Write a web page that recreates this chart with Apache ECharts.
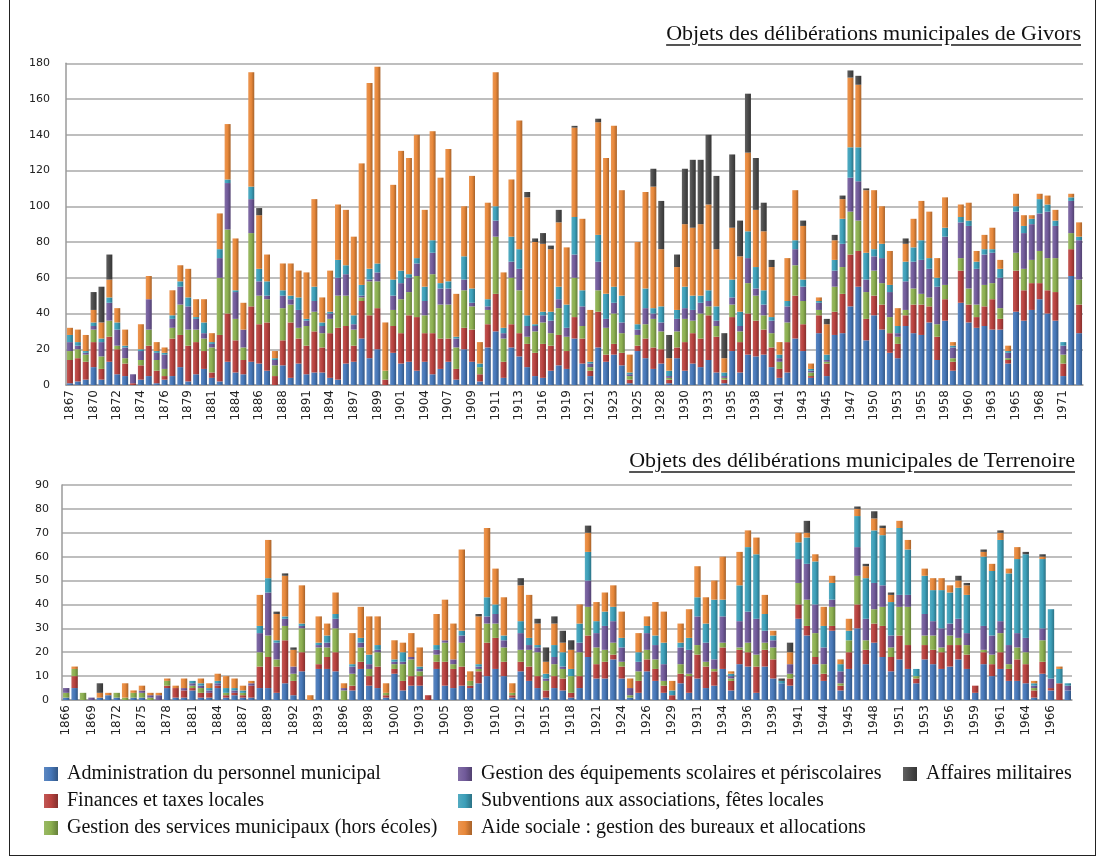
<!DOCTYPE html>
<html><head><meta charset="utf-8">
<script src="https://cdn.jsdelivr.net/npm/echarts/dist/echarts.min.js"></script>
<style>
html,body{margin:0;padding:0;background:#fff;}
#wrap{position:relative;width:1099px;height:859px;overflow:hidden;background:#fff;}
#c{position:absolute;left:0;top:0;width:1099px;height:859px;}
.ttl{position:absolute;font-family:"Liberation Serif","Times New Roman",serif;font-size:22px;color:#111;text-decoration:underline;text-decoration-color:#555;text-decoration-thickness:1.5px;text-underline-offset:4px;white-space:nowrap;line-height:24px;}
#frame{position:absolute;left:9px;top:-2px;width:1087px;height:858px;border:1px solid #222;box-sizing:border-box;pointer-events:none;}
</style></head>
<body><div id="wrap"><div id="c"></div>
<div class="ttl" style="right:18px;top:21px;">Objets des délibérations municipales de Givors</div>
<div class="ttl" style="right:24px;top:448px;">Objets des délibérations municipales de Terrenoire</div>
<div id="frame"></div></div>
<script>
const seriesNames = ['Administration du personnel municipal','Finances et taxes locales','Gestion des services municipaux (hors écoles)','Gestion des équipements scolaires et périscolaires','Subventions aux associations, fêtes locales','Aide sociale : gestion des bureaux et allocations','Affaires militaires'];
const seriesColors = ['#4677b8','#b8413e','#8cb050','#715a9a','#3c9fb9','#e8883a','#4a4a4a'];

const givYears = ['1867','1868','1869','1870','1871','1871','1872','1873','1873','1874','1875','1875','1876','1877','1878','1879','1880','1880','1881','1882','1883','1884','1885','1885','1886','1887','1887','1888','1889','1890','1891','1892','1893','1894','1895','1896','1897','1898','1898','1899','1900','1900','1901','1902','1903','1904','1905','1906','1907','1908','1908','1909','1910','1910','1911','1912','1912','1913','1914','1915','1916','1917','1918','1919','1920','1920','1921','1922','1922','1923','1924','1924','1925','1926','1927','1928','1929','1929','1930','1931','1932','1933','1934','1934','1935','1936','1937','1938','1939','1940','1941','1942','1942','1943','1944','1944','1945','1946','1946','1947','1948','1949','1950','1951','1952','1953','1954','1954','1955','1956','1957','1958','1959','1959','1960','1961','1962','1963','1964','1964','1965','1966','1967','1968','1969','1970','1971','1972','1973'];

const givAdmin = [1,2,3,10,3,13,6,5,0,3, 5,1,3,5,10,2,6,9,4,2, 13,7,6,13,12,8,0,11,4,12, 6,7,7,4,3,12,13,26,15,20, 0,18,12,13,8,13,6,9,13,3, 20,13,2,21,30,4,21,16,10,5, 4,8,11,9,26,12,5,21,13,17, 11,1,19,15,9,12,1,15,8,12, 10,14,7,1,19,7,17,16,17,10, 4,7,26,19,4,29,5,28,29,44, 55,25,39,31,18,15,33,29,28,35, 14,36,8,46,35,32,33,31,31,12, 41,36,42,48,40,36,5,61,29];
const givFin = [13,13,10,14,6,14,14,7,1,8, 17,7,2,21,18,20,18,10,3,26, 27,18,8,31,22,27,5,14,31,14, 16,23,14,25,29,21,9,21,24,23, 3,15,17,26,30,16,23,17,13,6, 12,18,4,13,21,9,13,13,13,13, 19,14,17,10,12,14,3,20,4,6, 7,2,3,11,12,8,2,6,16,17, 16,25,20,2,19,17,23,20,14,11, 5,17,24,15,1,10,7,13,22,29, 20,12,11,14,11,8,6,16,17,9, 13,12,5,18,10,6,11,17,6,2, 23,17,15,9,13,16,7,15,16];
const givServ = [5,5,4,7,7,9,2,3,0,3, 9,6,4,6,17,9,7,7,14,32, 47,12,7,41,16,13,6,18,10,6, 11,11,8,8,18,17,9,2,19,15, 5,9,19,13,23,10,33,19,19,12, 21,13,4,8,32,13,26,24,4,12, 12,7,15,8,22,7,2,12,15,17, 11,2,6,8,16,10,1,9,13,7, 14,5,6,1,7,6,17,14,8,8, 4,11,17,13,2,3,1,14,15,24, 17,15,14,12,9,4,3,9,6,5, 7,8,2,7,9,7,12,9,6,1, 10,12,13,18,18,19,5,9,14];
const givScol = [5,2,1,2,8,10,9,6,5,5, 17,4,8,5,10,13,6,3,2,11, 26,15,10,19,8,2,3,7,3,10, 3,6,4,3,10,12,3,1,1,5, 0,8,9,8,7,8,12,9,9,5, 6,2,0,2,9,3,9,12,6,3, 4,7,5,5,13,11,2,16,5,6, 6,1,3,9,3,5,1,7,6,6, 6,3,3,1,4,3,14,4,6,7, 2,9,9,8,1,4,1,9,13,19, 22,7,8,14,14,2,16,15,19,16, 21,27,6,20,35,20,17,17,17,3, 23,20,20,21,26,18,5,18,22];
const givSub = [4,2,1,2,2,3,4,1,0,1, 0,1,1,2,3,5,1,6,1,5, 2,1,0,7,7,8,1,3,2,7, 1,8,2,1,10,5,5,6,6,5, 0,9,7,2,3,8,7,3,4,1, 13,8,2,4,8,3,14,11,6,1, 2,5,7,13,21,9,1,15,14,9, 15,1,3,11,3,9,3,5,12,8, 4,6,8,2,10,8,15,12,8,2, 2,3,5,4,1,1,3,6,14,17, 19,15,4,8,4,4,11,8,11,6, 5,5,1,3,3,4,3,2,5,1, 3,4,3,8,4,3,2,2,2];
const givAide = [4,7,9,7,9,10,8,9,0,14, 13,5,3,14,9,16,10,13,5,20, 31,29,15,64,30,15,4,15,18,15, 26,49,14,23,31,31,44,68,104,110, 27,53,67,65,69,43,61,59,74,24, 28,63,12,54,75,31,32,72,66,46, 38,35,36,32,50,40,29,63,76,90, 59,10,46,54,68,32,7,24,35,38, 40,48,32,8,29,31,44,32,33,28, 7,24,28,30,3,2,17,11,11,39, 35,35,33,21,19,10,10,16,22,26, 11,17,2,7,10,6,8,12,5,3, 7,6,2,3,5,6,0,2,8];
const givMil = [0,0,0,10,20,14,0,0,0,0, 0,0,0,0,0,0,0,0,0,0, 0,0,0,0,4,0,0,0,0,0, 0,0,0,0,0,0,0,0,0,0, 0,0,0,0,0,0,0,0,0,0, 0,0,0,0,0,0,0,0,3,2, 6,2,7,0,1,0,0,2,0,0, 0,0,0,0,10,27,13,7,31,38, 36,39,41,14,41,20,33,29,16,4, 0,0,0,3,0,0,3,3,2,4, 5,1,0,0,0,0,3,0,0,0, 0,0,0,0,0,0,0,0,0,0, 0,0,0,0,0,0,0,0,0];

const terYears = ['1866','1867','1868','1869','1870','1871','1872','1873','1874','1875','1876','1877','1878','1879','1880','1881','1882','1883','1884','1885','1886','1887','1888','1888','1889','1890','1891','1892','1892','1892','1893','1894','1895','1896','1897','1897','1898','1899','1899','1900','1901','1902','1903','1904','1904','1905','1906','1907','1908','1909','1909','1910','1911','1911','1912','1913','1914','1915','1916','1917','1918','1919','1920','1921','1922','1923','1924','1925','1925','1926','1927','1928','1929','1930','1930','1931','1932','1933','1934','1935','1935','1936','1937','1938','1939','1940','1940','1941','1942','1943','1944','1944','1944','1945','1946','1947','1948','1949','1950','1951','1952','1952','1953','1954','1955','1956','1957','1958','1959','1960','1960','1961','1962','1963','1964','1965','1965','1966','1967','1968'];

const terAdmin = [1,5,0,0,1,2,1,0,1,1, 0,0,5,1,1,4,1,1,5,1, 2,1,1,5,5,3,7,2,12,0, 13,13,12,0,4,13,6,5,1,11, 4,6,6,0,13,6,5,6,5,7, 10,13,10,1,12,8,5,1,5,4, 1,5,18,9,9,17,9,1,3,12, 8,3,0,7,3,9,5,6,13,4, 15,14,3,14,9,7,6,34,27,15, 8,29,4,13,30,15,24,18,12,17, 13,7,17,15,13,14,17,13,3,15, 10,13,8,8,7,1,11,4,0,4];
const terFin = [0,5,0,0,0,0,0,0,0,0, 0,0,1,4,3,1,2,2,1,1, 1,1,5,9,13,11,18,6,8,0, 2,5,8,0,2,3,4,9,1,2, 4,4,4,2,3,10,8,8,1,5, 14,13,6,1,4,6,5,3,5,5, 2,5,9,6,7,2,5,0,5,5, 5,3,2,4,7,10,9,6,9,4, 6,6,11,7,8,0,3,6,4,3, 3,2,2,7,10,6,8,13,6,10, 10,2,6,6,7,9,6,6,3,5, 5,7,5,9,8,3,5,1,7,0];
const terServ = [2,3,3,0,0,0,2,1,2,2, 1,0,2,0,0,1,2,0,0,1, 0,1,0,6,9,3,6,3,10,0, 7,4,10,4,5,6,3,6,1,2, 7,7,2,0,3,8,2,10,2,1, 8,6,6,1,5,7,10,4,5,4, 7,10,12,7,5,5,2,1,4,4, 4,2,0,4,1,4,2,1,2,1, 1,4,5,3,5,0,2,9,11,10, 4,8,1,5,12,4,6,8,4,12, 16,1,4,6,2,4,3,4,0,1, 4,8,2,5,5,1,9,0,0,0];
const terScol = [2,0,0,1,0,0,0,0,0,1, 1,2,0,0,1,1,1,1,1,0, 1,0,1,8,18,7,3,3,1,0, 1,2,4,1,3,2,2,1,0,1, 1,1,1,0,2,1,2,3,0,1, 3,4,3,0,7,2,2,1,3,1, 0,4,11,6,10,9,6,3,4,7, 6,7,0,7,10,12,8,4,11,1, 11,13,15,5,3,0,4,10,15,12, 7,3,5,0,12,9,11,9,5,5, 5,0,9,6,8,5,8,5,0,10, 8,5,8,6,6,1,5,4,0,2];
const terSub = [0,0,0,0,0,0,0,0,0,0, 0,0,0,0,0,1,1,1,1,2, 1,1,0,3,6,1,1,0,1,0, 1,3,2,0,1,2,4,2,0,1, 4,0,1,0,2,0,0,2,0,1, 8,4,2,0,5,3,1,2,5,6, 3,8,12,5,6,6,4,0,4,3, 4,9,2,2,5,8,8,25,7,1, 15,27,27,7,2,1,0,7,11,18, 9,7,3,4,13,17,22,21,14,28, 19,3,16,13,16,13,13,16,0,29, 27,34,30,31,35,1,29,29,6,1];
const terAide = [0,1,0,0,2,1,0,6,1,2, 1,1,1,1,4,0,2,2,3,5, 4,2,1,13,16,11,17,7,16,2, 11,5,9,2,13,13,16,12,4,8, 4,10,8,0,13,17,15,34,4,20, 29,15,16,4,15,18,9,5,9,4, 8,8,8,8,8,9,11,4,8,4, 14,13,4,8,12,13,11,8,18,1, 14,7,7,8,2,0,5,4,2,3, 8,3,2,5,3,5,5,3,3,3, 4,0,3,5,5,3,3,4,0,2, 3,3,2,5,0,1,1,0,1,0];
const terMil = [0,0,0,0,4,0,0,0,0,0, 0,0,0,0,0,0,0,0,0,0, 0,0,0,0,0,1,1,1,0,0, 0,0,0,0,0,0,0,0,0,0, 0,0,0,0,0,0,0,0,0,1, 0,0,0,0,3,0,2,6,3,5, 4,0,3,0,0,0,0,0,0,0, 0,0,0,0,0,0,0,0,0,0, 0,0,0,0,0,1,4,0,5,0, 0,0,0,0,1,1,3,1,1,0, 0,0,0,0,0,0,2,1,0,1, 0,1,0,0,1,0,1,0,0,0];

const givData = [givAdmin, givFin, givServ, givScol, givSub, givAide, givMil];
const terData = [terAdmin, terFin, terServ, terScol, terSub, terAide, terMil];

function shade(hex, f) {
  const n = parseInt(hex.slice(1), 16);
  let r = n >> 16, g = (n >> 8) & 255, b = n & 255;
  const t = f < 0 ? 0 : 255, p = Math.abs(f);
  r = Math.round((t - r) * p + r); g = Math.round((t - g) * p + g); b = Math.round((t - b) * p + b);
  return '#' + ((1 << 24) + (r << 16) + (g << 8) + b).toString(16).slice(1);
}
function grad(c) {
  return new echarts.graphic.LinearGradient(0, 0, 1, 0, [
    {offset: 0, color: shade(c, 0.12)}, {offset: 0.5, color: c}, {offset: 1, color: shade(c, -0.28)}
  ]);
}

const chart = echarts.init(document.getElementById('c'), null, {renderer: 'canvas', width: 1099, height: 859});
const axisFont = {fontFamily: 'DejaVu Sans', color: '#222'};
const legendText = {fontFamily: 'Liberation Serif', fontSize: 20, lineHeight: 20, color: '#111', padding: [0, 0, 0, 4]};
function legendCfg(items, left) {
  return {data: items, left: left, top: 764, orient: 'vertical', padding: 0, itemWidth: 14, itemHeight: 14, itemGap: 7,
          textStyle: legendText, selectedMode: false, icon: 'rect'};
}
function makeSeries(data, stack, ax) {
  return data.map((d, i) => ({
    name: seriesNames[i], type: 'bar', stack: stack, xAxisIndex: ax, yAxisIndex: ax, data: d,
    barCategoryGap: '24%', itemStyle: {color: grad(seriesColors[i])}, emphasis: {disabled: true}
  }));
}
chart.setOption({
  animation: false,
  backgroundColor: '#fff',
  grid: [
    {left: 66, right: 16, top: 63.3, bottom: 474},
    {left: 62, right: 27, top: 485, bottom: 159}
  ],
  xAxis: [
    {type: 'category', gridIndex: 0, data: givYears, axisTick: {show: false},
     axisLine: {lineStyle: {color: '#9a9a9a', width: 1.5}},
     axisLabel: Object.assign({interval: 2, rotate: 90, fontSize: 12, margin: 5}, axisFont)},
    {type: 'category', gridIndex: 1, data: terYears, axisTick: {show: false},
     axisLine: {lineStyle: {color: '#9a9a9a', width: 1.5}},
     axisLabel: Object.assign({interval: 2, rotate: 90, fontSize: 12, margin: 5}, axisFont)}
  ],
  yAxis: [
    {type: 'value', gridIndex: 0, min: 0, max: 180, interval: 20,
     axisLine: {show: true, lineStyle: {color: '#9a9a9a', width: 1.5}}, axisTick: {show: false},
     splitLine: {lineStyle: {color: '#a8a8a8', width: 1.5}},
     axisLabel: Object.assign({fontSize: 11, margin: 16}, axisFont)},
    {type: 'value', gridIndex: 1, min: 0, max: 90, interval: 10,
     axisLine: {show: true, lineStyle: {color: '#9a9a9a', width: 1.5}}, axisTick: {show: false},
     splitLine: {lineStyle: {color: '#a8a8a8', width: 1.5}},
     axisLabel: Object.assign({fontSize: 11, margin: 13}, axisFont)}
  ],
  legend: [
    legendCfg(seriesNames.slice(0, 3), 44),
    legendCfg(seriesNames.slice(3, 6), 458),
    legendCfg(seriesNames.slice(6, 7), 903)
  ],
  series: makeSeries(givData, 'giv', 0).concat(makeSeries(terData, 'ter', 1))
});
</script></body></html>
